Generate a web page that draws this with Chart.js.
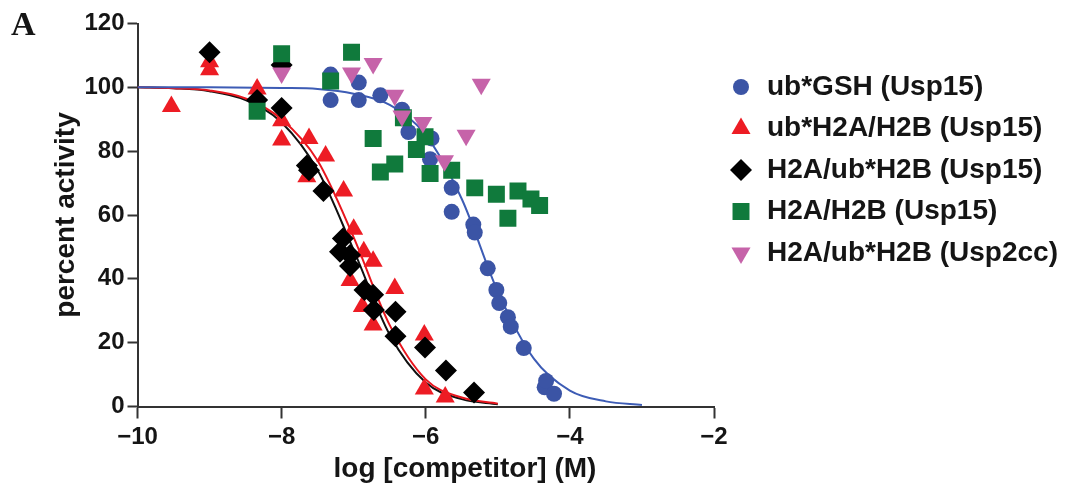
<!DOCTYPE html>
<html>
<head>
<meta charset="utf-8">
<script src="https://cdn.jsdelivr.net/npm/chart.js@4.4.1/dist/chart.umd.min.js"></script>
<style>
  html, body { margin: 0; padding: 0; background: #fff; }
</style>
</head>
<body>
<canvas id="mychart" width="1067" height="488"></canvas>
<script>
// values: x = log [competitor] (M), y = percent activity
const seriesNames = [
  'ub*GSH (Usp15)',
  'ub*H2A/H2B (Usp15)',
  'H2A/ub*H2B (Usp15)',
  'H2A/H2B (Usp15)',
  'H2A/ub*H2B (Usp2cc)'
];

const gshX = [-7.32, -7.32, -6.93, -6.93, -6.63, -6.33, -6.24, -5.92, -5.94, -5.64, -5.64, -5.34, -5.32, -5.14, -5.02, -4.98, -4.86, -4.82, -4.64, -4.35, -4.33, -4.22];
const gshY = [104, 96, 101.5, 96, 97.5, 93, 86, 84, 77.5, 68.5, 61, 57, 54.5, 43.3, 36.5, 32.4, 28, 25, 18.3, 6, 8, 4];

const ubH2aX = [-9.53, -9.0, -9.0, -8.34, -8.0, -8.0, -7.62, -7.65, -7.39, -7.14, -7.0, -6.86, -6.73, -7.05, -6.88, -6.73, -6.43, -6.02, -6.02, -5.73];
const ubH2aY = [94, 108, 105.5, 99.5, 89.5, 83.5, 84, 72, 78.5, 67.5, 55.5, 48.5, 45.5, 39.5, 31.3, 25.5, 37, 22.4, 5.5, 3];

const ubH2bX = [-9.0, -8.34, -8.0, -8.0, -7.65, -7.62, -7.42, -7.15, -7.19, -7.05, -7.05, -6.85, -6.73, -6.72, -6.42, -6.42, -6.01, -5.72, -5.33];
const ubH2bY = [111, 96, 107, 93.5, 75.5, 74, 67.5, 52.6, 48.5, 47.5, 44, 36.5, 35, 30.2, 29.7, 22, 18.5, 11.3, 4.4];

const plainX = [-8.34, -8.0, -7.32, -7.03, -6.73, -6.63, -6.43, -6.31, -6.13, -6.01, -5.94, -5.64, -5.32, -5.02, -4.72, -4.54, -4.42, -4.86];
const plainY = [92.5, 110.5, 102, 111, 84, 73.5, 76, 90.5, 80.5, 84.5, 73, 74, 68.5, 66.5, 67.5, 65, 63, 59];

const usp2X = [-8.0, -7.03, -6.73, -6.43, -6.33, -6.04, -5.74, -5.44, -5.23];
const usp2Y = [104.5, 104.5, 107.5, 97.5, 91, 89, 77, 85, 101];

// fitted curves
const fitX = [-10, -9.5, -9, -8.5, -8, -7.5, -7, -6.5, -6, -5.5, -5];
const fitRedY = [100, 99.7, 99, 96.5, 90, 77, 53, 25.5, 8.5, 2.8, 0.9];
const fitBlackY = [100, 99.7, 98.8, 96, 89, 74, 49, 22.5, 7.5, 2.3, 0.7];
const fitBlueX = [-10, -9, -8, -7.5, -7, -6.5, -6, -5.5, -5, -4.5, -4, -3.5, -3];
const fitBlueY = [100, 100, 99.8, 99.5, 98, 94.5, 85, 65, 36, 15, 5, 1.6, 0.5];

const xTicks = [-10, -8, -6, -4, -2];
const yTicks = [0, 20, 40, 60, 80, 100, 120];
const xTitle = 'log [competitor] (M)';
const yTitle = 'percent activity';

const FONT = '"Liberation Sans", Arial, Helvetica, sans-serif';
const INK = '#151515';

function pts(xs, ys) {
  return xs.map((x, i) => ({ x: x, y: ys[i] }));
}

function points(idx, xs, ys, color, style, radius, order, rotation) {
  return {
    label: seriesNames[idx],
    data: pts(xs, ys),
    showLine: false,
    backgroundColor: color,
    borderColor: color,
    pointStyle: style,
    pointRadius: radius,
    pointRotation: rotation || 0,
    pointBorderWidth: 0,
    order: order
  };
}

function curve(xs, ys, color) {
  return {
    label: '',
    data: pts(xs, ys),
    showLine: true,
    borderColor: color,
    borderWidth: 2,
    pointRadius: 0,
    cubicInterpolationMode: 'monotone',
    order: 10
  };
}

const legendItems = [];

// letter, x title and legend drawn on top
const overlay = {
  id: 'overlay',
  afterDraw(chart) {
    const ctx = chart.ctx;
    ctx.save();
    ctx.fillStyle = INK;
    ctx.font = 'bold 34px "Liberation Serif", "Times New Roman", serif';
    ctx.textAlign = 'left';
    ctx.textBaseline = 'alphabetic';
    ctx.fillText('A', 11, 35);

    ctx.font = 'bold 28px ' + FONT;
    ctx.textAlign = 'center';
    ctx.textBaseline = 'middle';
    ctx.fillText(xTitle, 465, 469);

    ctx.font = 'bold 28px ' + FONT;
    ctx.textAlign = 'left';
    legendItems.forEach((ds, i) => {
      const y = 87 + i * 41.5;
      ctx.fillStyle = ds.backgroundColor;
      Chart.helpers.drawPoint(ctx, {
        pointStyle: ds.pointStyle,
        rotation: ds.pointRotation,
        radius: ds.pointRadius,
        borderWidth: 0
      }, 741, y);
      ctx.fillStyle = INK;
      ctx.fillText(ds.label, 767, y);
    });
    ctx.restore();
  }
};

const blue = points(0, gshX, gshY, '#3b54a5', 'circle', 8, 5);
const red = points(1, ubH2aX, ubH2aY, '#ed1c24', 'triangle', 11, 4);
const black = points(2, ubH2bX, ubH2bY, '#000000', 'rectRot', 11, 3);
const green = points(3, plainX, plainY, '#107a3c', 'rect', 12, 2);
const pink = points(4, usp2X, usp2Y, '#c663a9', 'triangle', 11, 1, 180);
legendItems.push(blue, red, black, green, pink);

const tickFont = { family: FONT, size: 24, weight: 'bold' };

const ctx = document.getElementById('mychart').getContext('2d');
const myChart = new Chart(ctx, {
  type: 'scatter',
  data: {
    datasets: [
      blue, red, black, green, pink,
      curve(fitBlueX, fitBlueY, '#3d5cb5'),
      curve(fitX, fitRedY, '#e8161e'),
      curve(fitX, fitBlackY, '#111111')
    ]
  },
  options: {
    responsive: false,
    animation: false,
    layout: { padding: { left: 0, right: 353, top: 23.5, bottom: 0 } },
    plugins: {
      legend: { display: false },
      tooltip: { enabled: false }
    },
    scales: {
      x: {
        type: 'linear',
        min: -10,
        max: -2,
        afterBuildTicks: s => { s.ticks = xTicks.map(v => ({ value: v })); },
        ticks: {
          font: tickFont,
          color: INK,
          padding: 4,
          maxRotation: 0,
          callback: v => String(v).replace('-', '\u2212')
        },
        grid: { drawOnChartArea: false, tickLength: 12, tickWidth: 2, tickColor: '#333' },
        border: { color: '#333', width: 2 },
        afterFit: s => { s.height = 81.5; }
      },
      y: {
        min: 0,
        max: 120,
        afterBuildTicks: s => { s.ticks = yTicks.map(v => ({ value: v })); },
        ticks: { font: tickFont, color: INK, padding: 3 },
        grid: { drawOnChartArea: false, tickLength: 10, tickWidth: 2, tickColor: '#333' },
        border: { color: '#333', width: 2 },
        title: {
          display: true,
          text: yTitle,
          color: INK,
          font: { family: FONT, size: 28, weight: 'bold' },
          padding: { top: 49, bottom: 0 }
        },
        afterFit: s => { s.width = 137.5; }
      }
    }
  },
  plugins: [overlay]
});
</script>
</body>
</html>
